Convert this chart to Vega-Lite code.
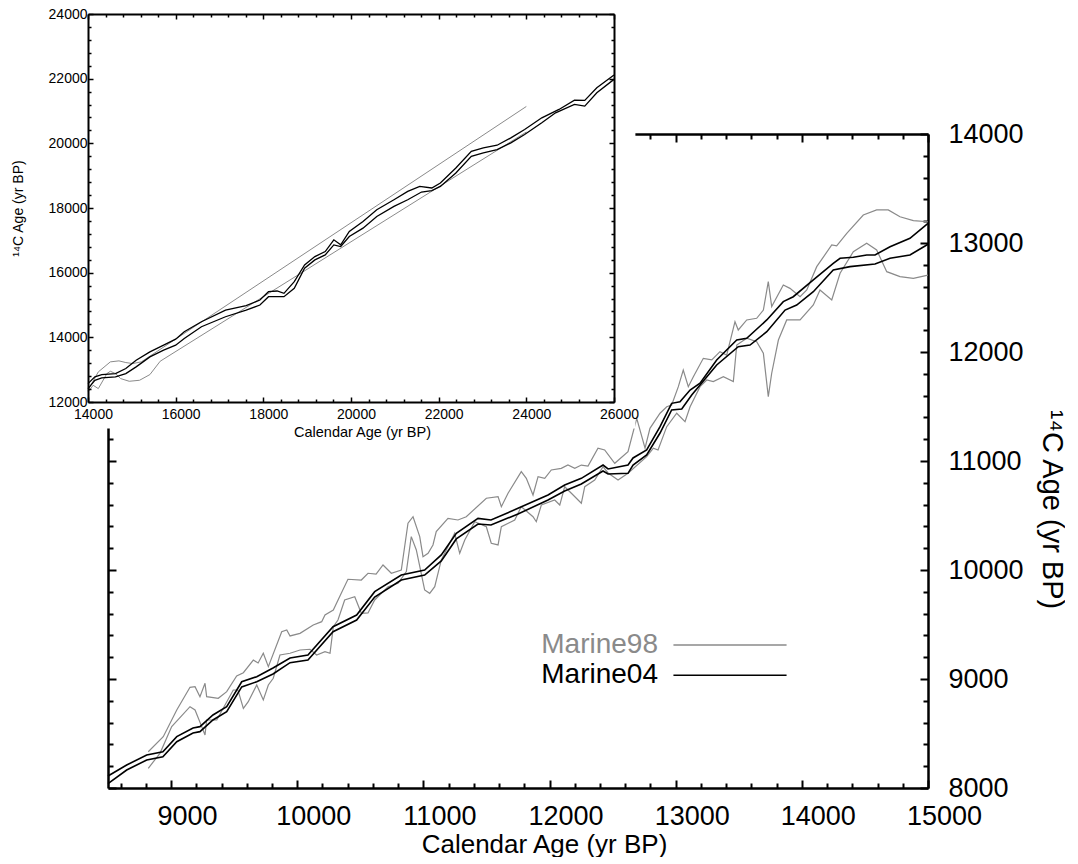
{
  "$schema": "https://vega.github.io/schema/vega-lite/v6.json",
  "background": "white",
  "padding": {"left": 11, "top": 7, "right": 0, "bottom": 0},
  "width": 840,
  "height": 774,
  "config": {
    "font": "Liberation Sans",
    "view": {"stroke": null},
    "axis": {"grid": false, "domainColor": "#000", "tickColor": "#000", "labelColor": "#000", "titleColor": "#000", "titleFontWeight": "normal", "labelFlush": false, "labelOverlap": false, "labelBound": false}
  },
  "datasets": {
    "m98": [
      {"series":"Marine98","bound":"hi","cal":8819,"c14":8333},{"series":"Marine98","bound":"hi","cal":8938,"c14":8471},{"series":"Marine98","bound":"hi","cal":9045,"c14":8716},{"series":"Marine98","bound":"hi","cal":9150,"c14":8924},{"series":"Marine98","bound":"hi","cal":9190,"c14":8930},{"series":"Marine98","bound":"hi","cal":9229,"c14":8838},{"series":"Marine98","bound":"hi","cal":9269,"c14":8961},{"series":"Marine98","bound":"hi","cal":9282,"c14":8838},{"series":"Marine98","bound":"hi","cal":9374,"c14":8823},{"series":"Marine98","bound":"hi","cal":9441,"c14":8884},{"series":"Marine98","bound":"hi","cal":9520,"c14":9028},{"series":"Marine98","bound":"hi","cal":9573,"c14":9058},{"series":"Marine98","bound":"hi","cal":9652,"c14":9174},{"series":"Marine98","bound":"hi","cal":9690,"c14":9147},{"series":"Marine98","bound":"hi","cal":9731,"c14":9236},{"series":"Marine98","bound":"hi","cal":9771,"c14":9113},{"series":"Marine98","bound":"hi","cal":9877,"c14":9434},{"series":"Marine98","bound":"hi","cal":9917,"c14":9450},{"series":"Marine98","bound":"hi","cal":9943,"c14":9395},{"series":"Marine98","bound":"hi","cal":10022,"c14":9419},{"series":"Marine98","bound":"hi","cal":10127,"c14":9496},{"series":"Marine98","bound":"hi","cal":10194,"c14":9526},{"series":"Marine98","bound":"hi","cal":10220,"c14":9587},{"series":"Marine98","bound":"hi","cal":10286,"c14":9633},{"series":"Marine98","bound":"hi","cal":10349,"c14":9786},{"series":"Marine98","bound":"hi","cal":10402,"c14":9915},{"series":"Marine98","bound":"hi","cal":10508,"c14":9908},{"series":"Marine98","bound":"hi","cal":10561,"c14":9970},{"series":"Marine98","bound":"hi","cal":10625,"c14":9963},{"series":"Marine98","bound":"hi","cal":10680,"c14":10046},{"series":"Marine98","bound":"hi","cal":10746,"c14":9970},{"series":"Marine98","bound":"hi","cal":10825,"c14":10000},{"series":"Marine98","bound":"hi","cal":10878,"c14":10429},{"series":"Marine98","bound":"hi","cal":10918,"c14":10489},{"series":"Marine98","bound":"hi","cal":10971,"c14":10306},{"series":"Marine98","bound":"hi","cal":10997,"c14":10122},{"series":"Marine98","bound":"hi","cal":11037,"c14":10153},{"series":"Marine98","bound":"hi","cal":11076,"c14":10230},{"series":"Marine98","bound":"hi","cal":11102,"c14":10352},{"series":"Marine98","bound":"hi","cal":11195,"c14":10474},{"series":"Marine98","bound":"hi","cal":11274,"c14":10459},{"series":"Marine98","bound":"hi","cal":11340,"c14":10489},{"series":"Marine98","bound":"hi","cal":11499,"c14":10658},{"series":"Marine98","bound":"hi","cal":11592,"c14":10673},{"series":"Marine98","bound":"hi","cal":11618,"c14":10581},{"series":"Marine98","bound":"hi","cal":11671,"c14":10704},{"series":"Marine98","bound":"hi","cal":11776,"c14":10902},{"series":"Marine98","bound":"hi","cal":11816,"c14":10841},{"series":"Marine98","bound":"hi","cal":11869,"c14":10688},{"series":"Marine98","bound":"hi","cal":11909,"c14":10856},{"series":"Marine98","bound":"hi","cal":11962,"c14":10841},{"series":"Marine98","bound":"hi","cal":12014,"c14":10918},{"series":"Marine98","bound":"hi","cal":12093,"c14":10933},{"series":"Marine98","bound":"hi","cal":12146,"c14":10963},{"series":"Marine98","bound":"hi","cal":12200,"c14":10933},{"series":"Marine98","bound":"hi","cal":12252,"c14":10963},{"series":"Marine98","bound":"hi","cal":12305,"c14":10954},{"series":"Marine98","bound":"hi","cal":12384,"c14":11117},{"series":"Marine98","bound":"hi","cal":12437,"c14":11101},{"series":"Marine98","bound":"hi","cal":12517,"c14":10979},{"series":"Marine98","bound":"hi","cal":12622,"c14":11085},{"series":"Marine98","bound":"hi","cal":12691,"c14":11392},{"series":"Marine98","bound":"hi","cal":12757,"c14":11117},{"series":"Marine98","bound":"hi","cal":12796,"c14":11300},{"series":"Marine98","bound":"hi","cal":12876,"c14":11438},{"series":"Marine98","bound":"hi","cal":12929,"c14":11498},{"series":"Marine98","bound":"hi","cal":12968,"c14":11514},{"series":"Marine98","bound":"hi","cal":13021,"c14":11682},{"series":"Marine98","bound":"hi","cal":13060,"c14":11835},{"series":"Marine98","bound":"hi","cal":13100,"c14":11682},{"series":"Marine98","bound":"hi","cal":13140,"c14":11773},{"series":"Marine98","bound":"hi","cal":13219,"c14":11942},{"series":"Marine98","bound":"hi","cal":13286,"c14":11927},{"series":"Marine98","bound":"hi","cal":13351,"c14":12003},{"series":"Marine98","bound":"hi","cal":13404,"c14":11972},{"series":"Marine98","bound":"hi","cal":13470,"c14":12278},{"series":"Marine98","bound":"hi","cal":13496,"c14":12202},{"series":"Marine98","bound":"hi","cal":13563,"c14":12294},{"series":"Marine98","bound":"hi","cal":13642,"c14":12309},{"series":"Marine98","bound":"hi","cal":13695,"c14":12385},{"series":"Marine98","bound":"hi","cal":13734,"c14":12645},{"series":"Marine98","bound":"hi","cal":13761,"c14":12416},{"series":"Marine98","bound":"hi","cal":13853,"c14":12615},{"series":"Marine98","bound":"hi","cal":13906,"c14":12584},{"series":"Marine98","bound":"hi","cal":13986,"c14":12507},{"series":"Marine98","bound":"hi","cal":14039,"c14":12569},{"series":"Marine98","bound":"hi","cal":14118,"c14":12783},{"series":"Marine98","bound":"hi","cal":14237,"c14":12982},{"series":"Marine98","bound":"hi","cal":14276,"c14":12973},{"series":"Marine98","bound":"hi","cal":14356,"c14":13089},{"series":"Marine98","bound":"hi","cal":14487,"c14":13257},{"series":"Marine98","bound":"hi","cal":14593,"c14":13303},{"series":"Marine98","bound":"hi","cal":14685,"c14":13303},{"series":"Marine98","bound":"hi","cal":14778,"c14":13241},{"series":"Marine98","bound":"hi","cal":14884,"c14":13205},{"series":"Marine98","bound":"hi","cal":15000,"c14":13195},
      {"series":"Marine98","bound":"lo","cal":8819,"c14":8181},{"series":"Marine98","bound":"lo","cal":8912,"c14":8318},{"series":"Marine98","bound":"lo","cal":9005,"c14":8563},{"series":"Marine98","bound":"lo","cal":9150,"c14":8746},{"series":"Marine98","bound":"lo","cal":9190,"c14":8716},{"series":"Marine98","bound":"lo","cal":9243,"c14":8563},{"series":"Marine98","bound":"lo","cal":9269,"c14":8486},{"series":"Marine98","bound":"lo","cal":9282,"c14":8624},{"series":"Marine98","bound":"lo","cal":9362,"c14":8624},{"series":"Marine98","bound":"lo","cal":9493,"c14":8899},{"series":"Marine98","bound":"lo","cal":9530,"c14":8899},{"series":"Marine98","bound":"lo","cal":9573,"c14":8731},{"series":"Marine98","bound":"lo","cal":9612,"c14":8792},{"series":"Marine98","bound":"lo","cal":9679,"c14":8945},{"series":"Marine98","bound":"lo","cal":9731,"c14":8808},{"series":"Marine98","bound":"lo","cal":9771,"c14":8945},{"series":"Marine98","bound":"lo","cal":9810,"c14":9007},{"series":"Marine98","bound":"lo","cal":9863,"c14":9220},{"series":"Marine98","bound":"lo","cal":9943,"c14":9236},{"series":"Marine98","bound":"lo","cal":10022,"c14":9266},{"series":"Marine98","bound":"lo","cal":10101,"c14":9273},{"series":"Marine98","bound":"lo","cal":10154,"c14":9220},{"series":"Marine98","bound":"lo","cal":10220,"c14":9251},{"series":"Marine98","bound":"lo","cal":10260,"c14":9236},{"series":"Marine98","bound":"lo","cal":10286,"c14":9480},{"series":"Marine98","bound":"lo","cal":10323,"c14":9541},{"series":"Marine98","bound":"lo","cal":10376,"c14":9725},{"series":"Marine98","bound":"lo","cal":10456,"c14":9755},{"series":"Marine98","bound":"lo","cal":10508,"c14":9603},{"series":"Marine98","bound":"lo","cal":10561,"c14":9606},{"series":"Marine98","bound":"lo","cal":10614,"c14":9725},{"series":"Marine98","bound":"lo","cal":10720,"c14":9847},{"series":"Marine98","bound":"lo","cal":10799,"c14":9878},{"series":"Marine98","bound":"lo","cal":10865,"c14":9985},{"series":"Marine98","bound":"lo","cal":10904,"c14":10306},{"series":"Marine98","bound":"lo","cal":10944,"c14":10184},{"series":"Marine98","bound":"lo","cal":11010,"c14":9817},{"series":"Marine98","bound":"lo","cal":11050,"c14":9786},{"series":"Marine98","bound":"lo","cal":11090,"c14":9847},{"series":"Marine98","bound":"lo","cal":11142,"c14":10092},{"series":"Marine98","bound":"lo","cal":11248,"c14":10337},{"series":"Marine98","bound":"lo","cal":11288,"c14":10153},{"series":"Marine98","bound":"lo","cal":11328,"c14":10275},{"series":"Marine98","bound":"lo","cal":11407,"c14":10443},{"series":"Marine98","bound":"lo","cal":11499,"c14":10397},{"series":"Marine98","bound":"lo","cal":11538,"c14":10245},{"series":"Marine98","bound":"lo","cal":11592,"c14":10230},{"series":"Marine98","bound":"lo","cal":11618,"c14":10397},{"series":"Marine98","bound":"lo","cal":11724,"c14":10459},{"series":"Marine98","bound":"lo","cal":11776,"c14":10581},{"series":"Marine98","bound":"lo","cal":11869,"c14":10489},{"series":"Marine98","bound":"lo","cal":11895,"c14":10443},{"series":"Marine98","bound":"lo","cal":11935,"c14":10596},{"series":"Marine98","bound":"lo","cal":12041,"c14":10642},{"series":"Marine98","bound":"lo","cal":12081,"c14":10596},{"series":"Marine98","bound":"lo","cal":12120,"c14":10764},{"series":"Marine98","bound":"lo","cal":12173,"c14":10704},{"series":"Marine98","bound":"lo","cal":12252,"c14":10612},{"series":"Marine98","bound":"lo","cal":12279,"c14":10764},{"series":"Marine98","bound":"lo","cal":12358,"c14":10826},{"series":"Marine98","bound":"lo","cal":12424,"c14":10948},{"series":"Marine98","bound":"lo","cal":12464,"c14":10890},{"series":"Marine98","bound":"lo","cal":12543,"c14":10826},{"series":"Marine98","bound":"lo","cal":12622,"c14":10887},{"series":"Marine98","bound":"lo","cal":12770,"c14":11040},{"series":"Marine98","bound":"lo","cal":12823,"c14":11117},{"series":"Marine98","bound":"lo","cal":12860,"c14":11101},{"series":"Marine98","bound":"lo","cal":12929,"c14":11315},{"series":"Marine98","bound":"lo","cal":13008,"c14":11438},{"series":"Marine98","bound":"lo","cal":13074,"c14":11361},{"series":"Marine98","bound":"lo","cal":13114,"c14":11498},{"series":"Marine98","bound":"lo","cal":13193,"c14":11682},{"series":"Marine98","bound":"lo","cal":13246,"c14":11743},{"series":"Marine98","bound":"lo","cal":13298,"c14":11728},{"series":"Marine98","bound":"lo","cal":13378,"c14":11773},{"series":"Marine98","bound":"lo","cal":13457,"c14":11728},{"series":"Marine98","bound":"lo","cal":13484,"c14":12064},{"series":"Marine98","bound":"lo","cal":13563,"c14":12126},{"series":"Marine98","bound":"lo","cal":13642,"c14":12095},{"series":"Marine98","bound":"lo","cal":13695,"c14":11988},{"series":"Marine98","bound":"lo","cal":13734,"c14":11590},{"series":"Marine98","bound":"lo","cal":13761,"c14":11805},{"series":"Marine98","bound":"lo","cal":13814,"c14":12110},{"series":"Marine98","bound":"lo","cal":13880,"c14":12294},{"series":"Marine98","bound":"lo","cal":13986,"c14":12294},{"series":"Marine98","bound":"lo","cal":14091,"c14":12431},{"series":"Marine98","bound":"lo","cal":14144,"c14":12569},{"series":"Marine98","bound":"lo","cal":14237,"c14":12477},{"series":"Marine98","bound":"lo","cal":14303,"c14":12722},{"series":"Marine98","bound":"lo","cal":14408,"c14":12920},{"series":"Marine98","bound":"lo","cal":14514,"c14":12997},{"series":"Marine98","bound":"lo","cal":14593,"c14":12936},{"series":"Marine98","bound":"lo","cal":14673,"c14":12737},{"series":"Marine98","bound":"lo","cal":14778,"c14":12691},{"series":"Marine98","bound":"lo","cal":14884,"c14":12676},{"series":"Marine98","bound":"lo","cal":15000,"c14":12706}
    ],
    "m04": [
      {"bound":"hi","cal":8500,"c14":8110},{"bound":"hi","cal":8648,"c14":8211},{"bound":"hi","cal":8807,"c14":8303},{"bound":"hi","cal":8935,"c14":8333},{"bound":"hi","cal":9045,"c14":8471},{"bound":"hi","cal":9174,"c14":8551},{"bound":"hi","cal":9229,"c14":8563},{"bound":"hi","cal":9332,"c14":8670},{"bound":"hi","cal":9441,"c14":8746},{"bound":"hi","cal":9560,"c14":8975},{"bound":"hi","cal":9679,"c14":9021},{"bound":"hi","cal":9808,"c14":9101},{"bound":"hi","cal":9943,"c14":9193},{"bound":"hi","cal":10085,"c14":9220},{"bound":"hi","cal":10284,"c14":9480},{"bound":"hi","cal":10471,"c14":9587},{"bound":"hi","cal":10614,"c14":9801},{"bound":"hi","cal":10825,"c14":9954},{"bound":"hi","cal":11010,"c14":10000},{"bound":"hi","cal":11142,"c14":10138},{"bound":"hi","cal":11261,"c14":10337},{"bound":"hi","cal":11433,"c14":10474},{"bound":"hi","cal":11536,"c14":10459},{"bound":"hi","cal":11750,"c14":10566},{"bound":"hi","cal":11988,"c14":10688},{"bound":"hi","cal":12120,"c14":10780},{"bound":"hi","cal":12252,"c14":10841},{"bound":"hi","cal":12424,"c14":10963},{"bound":"hi","cal":12464,"c14":10927},{"bound":"hi","cal":12622,"c14":10963},{"bound":"hi","cal":12662,"c14":11028},{"bound":"hi","cal":12770,"c14":11101},{"bound":"hi","cal":12876,"c14":11315},{"bound":"hi","cal":12968,"c14":11529},{"bound":"hi","cal":13034,"c14":11544},{"bound":"hi","cal":13114,"c14":11651},{"bound":"hi","cal":13193,"c14":11713},{"bound":"hi","cal":13325,"c14":11927},{"bound":"hi","cal":13484,"c14":12110},{"bound":"hi","cal":13563,"c14":12126},{"bound":"hi","cal":13722,"c14":12294},{"bound":"hi","cal":13853,"c14":12462},{"bound":"hi","cal":13932,"c14":12507},{"bound":"hi","cal":14091,"c14":12661},{"bound":"hi","cal":14249,"c14":12814},{"bound":"hi","cal":14303,"c14":12860},{"bound":"hi","cal":14408,"c14":12869},{"bound":"hi","cal":14514,"c14":12890},{"bound":"hi","cal":14580,"c14":12890},{"bound":"hi","cal":14699,"c14":12966},{"bound":"hi","cal":14857,"c14":13043},{"bound":"hi","cal":15000,"c14":13181},
      {"bound":"lo","cal":8500,"c14":8040},{"bound":"lo","cal":8648,"c14":8165},{"bound":"lo","cal":8807,"c14":8257},{"bound":"lo","cal":8935,"c14":8287},{"bound":"lo","cal":9045,"c14":8425},{"bound":"lo","cal":9174,"c14":8505},{"bound":"lo","cal":9229,"c14":8517},{"bound":"lo","cal":9332,"c14":8624},{"bound":"lo","cal":9441,"c14":8700},{"bound":"lo","cal":9560,"c14":8927},{"bound":"lo","cal":9679,"c14":8975},{"bound":"lo","cal":9808,"c14":9046},{"bound":"lo","cal":9943,"c14":9150},{"bound":"lo","cal":10085,"c14":9174},{"bound":"lo","cal":10284,"c14":9434},{"bound":"lo","cal":10471,"c14":9541},{"bound":"lo","cal":10614,"c14":9752},{"bound":"lo","cal":10825,"c14":9908},{"bound":"lo","cal":11010,"c14":9954},{"bound":"lo","cal":11142,"c14":10083},{"bound":"lo","cal":11261,"c14":10285},{"bound":"lo","cal":11433,"c14":10422},{"bound":"lo","cal":11536,"c14":10413},{"bound":"lo","cal":11750,"c14":10514},{"bound":"lo","cal":11988,"c14":10642},{"bound":"lo","cal":12120,"c14":10725},{"bound":"lo","cal":12252,"c14":10789},{"bound":"lo","cal":12424,"c14":10908},{"bound":"lo","cal":12464,"c14":10881},{"bound":"lo","cal":12622,"c14":10887},{"bound":"lo","cal":12662,"c14":10963},{"bound":"lo","cal":12770,"c14":11055},{"bound":"lo","cal":12876,"c14":11257},{"bound":"lo","cal":12968,"c14":11468},{"bound":"lo","cal":13048,"c14":11477},{"bound":"lo","cal":13127,"c14":11606},{"bound":"lo","cal":13325,"c14":11881},{"bound":"lo","cal":13496,"c14":12049},{"bound":"lo","cal":13589,"c14":12064},{"bound":"lo","cal":13722,"c14":12186},{"bound":"lo","cal":13867,"c14":12385},{"bound":"lo","cal":13959,"c14":12431},{"bound":"lo","cal":14091,"c14":12553},{"bound":"lo","cal":14249,"c14":12752},{"bound":"lo","cal":14382,"c14":12783},{"bound":"lo","cal":14580,"c14":12807},{"bound":"lo","cal":14699,"c14":12860},{"bound":"lo","cal":14857,"c14":12890},{"bound":"lo","cal":15000,"c14":12988}
    ],
    "i98": [
      {"bound":"hi","cal":14000,"c14":12360},{"bound":"hi","cal":14235,"c14":12931},{"bound":"hi","cal":14510,"c14":13241},{"bound":"hi","cal":14706,"c14":13272},{"bound":"hi","cal":14863,"c14":13220},{"bound":"hi","cal":15020,"c14":13189},{"bound":"hi","cal":15216,"c14":13241},{"bound":"hi","cal":24000,"c14":21140},
      {"bound":"lo","cal":14000,"c14":12310},{"bound":"lo","cal":14118,"c14":12517},{"bound":"lo","cal":14235,"c14":12414},{"bound":"lo","cal":14431,"c14":12879},{"bound":"lo","cal":14510,"c14":12951},{"bound":"lo","cal":14627,"c14":12879},{"bound":"lo","cal":14745,"c14":12724},{"bound":"lo","cal":14941,"c14":12641},{"bound":"lo","cal":15176,"c14":12672},{"bound":"lo","cal":15412,"c14":12848},{"bound":"lo","cal":15647,"c14":13261},{"bound":"lo","cal":24000,"c14":20350}
    ],
    "i04": [
      {"bound":"hi","cal":14000,"c14":12569},{"bound":"hi","cal":14157,"c14":12776},{"bound":"hi","cal":14314,"c14":12848},{"bound":"hi","cal":14627,"c14":12879},{"bound":"hi","cal":14863,"c14":13034},{"bound":"hi","cal":15098,"c14":13293},{"bound":"hi","cal":15412,"c14":13551},{"bound":"hi","cal":15725,"c14":13758},{"bound":"hi","cal":16000,"c14":13944},{"bound":"hi","cal":16196,"c14":14171},{"bound":"hi","cal":16588,"c14":14482},{"bound":"hi","cal":17137,"c14":14844},{"bound":"hi","cal":17608,"c14":14978},{"bound":"hi","cal":17922,"c14":15154},{"bound":"hi","cal":18118,"c14":15412},{"bound":"hi","cal":18314,"c14":15433},{"bound":"hi","cal":18471,"c14":15361},{"bound":"hi","cal":18706,"c14":15722},{"bound":"hi","cal":18941,"c14":16239},{"bound":"hi","cal":19176,"c14":16498},{"bound":"hi","cal":19412,"c14":16653},{"bound":"hi","cal":19608,"c14":17015},{"bound":"hi","cal":19765,"c14":16860},{"bound":"hi","cal":19961,"c14":17273},{"bound":"hi","cal":20274,"c14":17584},{"bound":"hi","cal":20588,"c14":17946},{"bound":"hi","cal":20980,"c14":18256},{"bound":"hi","cal":21294,"c14":18514},{"bound":"hi","cal":21568,"c14":18669},{"bound":"hi","cal":21843,"c14":18618},{"bound":"hi","cal":22039,"c14":18773},{"bound":"hi","cal":22392,"c14":19238},{"bound":"hi","cal":22745,"c14":19755},{"bound":"hi","cal":23019,"c14":19858},{"bound":"hi","cal":23333,"c14":19941},{"bound":"hi","cal":23647,"c14":20169},{"bound":"hi","cal":23961,"c14":20427},{"bound":"hi","cal":24353,"c14":20789},{"bound":"hi","cal":24745,"c14":21048},{"bound":"hi","cal":25098,"c14":21337},{"bound":"hi","cal":25333,"c14":21327},{"bound":"hi","cal":25608,"c14":21720},{"bound":"hi","cal":26000,"c14":22113},
      {"bound":"lo","cal":14000,"c14":12414},{"bound":"lo","cal":14157,"c14":12672},{"bound":"lo","cal":14314,"c14":12744},{"bound":"lo","cal":14627,"c14":12776},{"bound":"lo","cal":14863,"c14":12879},{"bound":"lo","cal":15098,"c14":13086},{"bound":"lo","cal":15412,"c14":13396},{"bound":"lo","cal":15725,"c14":13603},{"bound":"lo","cal":16000,"c14":13758},{"bound":"lo","cal":16196,"c14":13965},{"bound":"lo","cal":16588,"c14":14327},{"bound":"lo","cal":17137,"c14":14637},{"bound":"lo","cal":17608,"c14":14844},{"bound":"lo","cal":17922,"c14":14999},{"bound":"lo","cal":18118,"c14":15257},{"bound":"lo","cal":18471,"c14":15257},{"bound":"lo","cal":18706,"c14":15516},{"bound":"lo","cal":18941,"c14":16136},{"bound":"lo","cal":19176,"c14":16395},{"bound":"lo","cal":19412,"c14":16550},{"bound":"lo","cal":19608,"c14":16860},{"bound":"lo","cal":19765,"c14":16808},{"bound":"lo","cal":19961,"c14":17118},{"bound":"lo","cal":20274,"c14":17377},{"bound":"lo","cal":20588,"c14":17739},{"bound":"lo","cal":20980,"c14":18049},{"bound":"lo","cal":21294,"c14":18256},{"bound":"lo","cal":21608,"c14":18494},{"bound":"lo","cal":21843,"c14":18535},{"bound":"lo","cal":22039,"c14":18669},{"bound":"lo","cal":22392,"c14":19083},{"bound":"lo","cal":22745,"c14":19600},{"bound":"lo","cal":23019,"c14":19703},{"bound":"lo","cal":23333,"c14":19807},{"bound":"lo","cal":23647,"c14":20014},{"bound":"lo","cal":23961,"c14":20272},{"bound":"lo","cal":24353,"c14":20634},{"bound":"lo","cal":24667,"c14":20944},{"bound":"lo","cal":25098,"c14":21203},{"bound":"lo","cal":25333,"c14":21151},{"bound":"lo","cal":25608,"c14":21565},{"bound":"lo","cal":26000,"c14":21978}
    ]
  },
  "layer": [
    {
      "layer": [
        {
          "data": {"name": "m98"},
          "mark": {"type": "line", "strokeWidth": 1.2},
          "encoding": {
            "x": {"field": "cal", "type": "quantitative",
              "scale": {"domain": [8500, 15000], "range": [20, 840], "nice": false, "zero": false},
              "axis": {"orient": "bottom", "zindex": 0, "values": [8600,8800,9000,9200,9400,9600,9800,10000,10200,10400,10600,10800,11000,11200,11400,11600,11800,12000,12200,12400,12600,12800,13000,13200,13400,13600,13800,14000,14200,14400,14600,14800,15000],
                "format": "d", "labelExpr": "datum.value % 1000 === 0 ? datum.label : ''",
                "tickSize": {"condition": {"test": "datum.value % 1000 === 0", "value": -8}, "value": -5},
                "tickWidth": 2, "domainWidth": 2.5,
                "labelFontSize": 27, "labelBaseline": "alphabetic", "labelPadding": 44, "labelOffset": 16,
                "title": "Calendar Age (yr BP)", "titleFontSize": 26, "titleX": 456, "titleY": 64, "titleAlign": "center", "titleBaseline": "alphabetic"}},
            "y": {"field": "c14", "type": "quantitative",
              "scale": {"domain": [8000, 14000], "range": [774, 120], "nice": false, "zero": false},
              "axis": {"orient": "right", "zindex": 0, "values": [8000,8200,8400,8600,8800,9000,9200,9400,9600,9800,10000,10200,10400,10600,10800,11000,11200,11400,11600,11800,12000,12200,12400,12600,12800,13000,13200,13400,13600,13800,14000],
                "format": "d", "labelExpr": "datum.value % 1000 === 0 ? datum.label : ''",
                "tickSize": {"condition": {"test": "datum.value % 1000 === 0", "value": -8}, "value": -5},
                "tickWidth": 2, "domainWidth": 2.5,
                "labelFontSize": 27, "labelAlign": "left", "labelBaseline": "middle", "labelPadding": 28,
                "title": "¹⁴C Age (yr BP)", "titleFontSize": 29, "titleAngle": 90, "titleX": 123, "titleY": 495, "titleAlign": "center", "titleBaseline": "middle"}},
            "color": {"field": "series", "type": "nominal",
              "scale": {"domain": ["Marine98", "Marine04"], "range": ["#8a8a8a", "#000000"]},
              "legend": {"orient": "none", "legendX": 627, "legendY": 616, "title": null, "symbolType": "M-4,0H4", "symbolSize": 800, "symbolStrokeWidth": 1.6, "labelFontSize": 28, "labelAlign": "right", "labelBaseline": "middle", "labelOffset": -87, "labelLimit": 0, "rowPadding": 1.3, "padding": 0,
                "encode": {"labels": {"update": {"fill": {"signal": "datum.value === 'Marine98' ? '#8a8a8a' : '#000000'"}}}}}},
            "detail": {"field": "bound", "type": "nominal"}
          }
        },
        {
          "data": {"name": "m04"},
          "mark": {"type": "line", "strokeWidth": 1.6, "color": "#000000"},
          "encoding": {
            "x": {"field": "cal", "type": "quantitative",
              "axis": {"orient": "top", "zindex": 0, "offset": -120, "values": [8600,8800,9000,9200,9400,9600,9800,10000,10200,10400,10600,10800,11000,11200,11400,11600,11800,12000,12200,12400,12600,12800,13000,13200,13400,13600,13800,14000,14200,14400,14600,14800,15000],
                "labels": false, "title": null,
                "tickSize": {"condition": {"test": "datum.value % 1000 === 0", "value": -8}, "value": -5},
                "tickWidth": 2, "domainWidth": 2.5}},
            "y": {"field": "c14", "type": "quantitative",
              "axis": {"orient": "left", "zindex": 0, "offset": -20, "values": [8000,8200,8400,8600,8800,9000,9200,9400,9600,9800,10000,10200,10400,10600,10800,11000,11200,11400,11600,11800,12000,12200,12400,12600,12800,13000,13200,13400,13600,13800,14000],
                "labels": false, "title": null,
                "tickSize": {"condition": {"test": "datum.value % 1000 === 0", "value": -8}, "value": -5},
                "tickWidth": 2, "domainWidth": 2.5}},
            "detail": {"field": "bound", "type": "nominal"}
          }
        }
      ],
      "resolve": {"axis": {"x": "independent", "y": "independent"}}
    },
    {
      "layer": [
        {
          "data": {"values": [{}]},
          "mark": {"type": "rect", "color": "white", "clip": false},
          "encoding": {
            "x": {"datum": 14000, "type": "quantitative", "scale": {"domain": [14000, 26000], "range": [0, 526], "nice": false, "zero": false}, "axis": null},
            "x2": {"datum": 26488},
            "y": {"datum": 11180, "type": "quantitative", "scale": {"domain": [12000, 24000], "range": [388, 0], "nice": false, "zero": false}, "axis": null},
            "y2": {"datum": 24000}
          }
        },
        {
          "data": {"name": "i98"},
          "mark": {"type": "line", "strokeWidth": 1, "color": "#8a8a8a"},
          "encoding": {
            "x": {"field": "cal", "type": "quantitative",
              "scale": {"domain": [14000, 26000], "range": [0, 526], "nice": false, "zero": false},
              "axis": {"orient": "bottom", "zindex": 1, "offset": -386, "values": [14000,14400,14800,15200,15600,16000,16400,16800,17200,17600,18000,18400,18800,19200,19600,20000,20400,20800,21200,21600,22000,22400,22800,23200,23600,24000,24400,24800,25200,25600,26000],
                "format": "d", "labelExpr": "datum.value % 2000 === 0 ? datum.label : ''",
                "tickSize": {"condition": {"test": "datum.value % 2000 === 0", "value": -5}, "value": -3},
                "tickWidth": 1.5, "domainWidth": 2,
                "labelFontSize": 14, "labelBaseline": "alphabetic", "labelPadding": 21, "labelOffset": 5,
                "title": "Calendar Age (yr BP)", "titleFontSize": 14.5, "titleX": 274, "titleY": 34, "titleAlign": "center", "titleBaseline": "alphabetic"}},
            "y": {"field": "c14", "type": "quantitative",
              "scale": {"domain": [12000, 24000], "range": [388, 0], "nice": false, "zero": false},
              "axis": {"orient": "left", "zindex": 1, "values": [12000,12400,12800,13200,13600,14000,14400,14800,15200,15600,16000,16400,16800,17200,17600,18000,18400,18800,19200,19600,20000,20400,20800,21200,21600,22000,22400,22800,23200,23600,24000],
                "format": "d", "labelExpr": "datum.value % 2000 === 0 ? datum.label : ''",
                "tickSize": {"condition": {"test": "datum.value % 2000 === 0", "value": -5}, "value": -3},
                "tickWidth": 1.5, "domainWidth": 2,
                "labelFontSize": 14, "labelAlign": "right", "labelBaseline": "middle", "labelPadding": 6,
                "title": "¹⁴C Age (yr BP)", "titleFontSize": 14, "titleAngle": -90, "titleX": -70, "titleY": 194, "titleAlign": "center", "titleBaseline": "middle"}},
            "detail": {"field": "bound", "type": "nominal"}
          }
        },
        {
          "data": {"name": "i04"},
          "mark": {"type": "line", "strokeWidth": 1.3, "color": "#000000"},
          "encoding": {
            "x": {"field": "cal", "type": "quantitative",
              "axis": {"orient": "top", "zindex": 1, "values": [14000,14400,14800,15200,15600,16000,16400,16800,17200,17600,18000,18400,18800,19200,19600,20000,20400,20800,21200,21600,22000,22400,22800,23200,23600,24000,24400,24800,25200,25600,26000],
                "labels": false, "title": null,
                "tickSize": {"condition": {"test": "datum.value % 2000 === 0", "value": -5}, "value": -3},
                "tickWidth": 1.5, "domainWidth": 2}},
            "y": {"field": "c14", "type": "quantitative",
              "axis": {"orient": "right", "zindex": 1, "offset": -314, "values": [12000,12400,12800,13200,13600,14000,14400,14800,15200,15600,16000,16400,16800,17200,17600,18000,18400,18800,19200,19600,20000,20400,20800,21200,21600,22000,22400,22800,23200,23600,24000],
                "labels": false, "title": null,
                "tickSize": {"condition": {"test": "datum.value % 2000 === 0", "value": -5}, "value": -3},
                "tickWidth": 1.5, "domainWidth": 2}},
            "detail": {"field": "bound", "type": "nominal"}
          }
        }
      ],
      "resolve": {"axis": {"x": "independent", "y": "independent"}}
    }
  ],
  "resolve": {"scale": {"x": "independent", "y": "independent"}}
}
